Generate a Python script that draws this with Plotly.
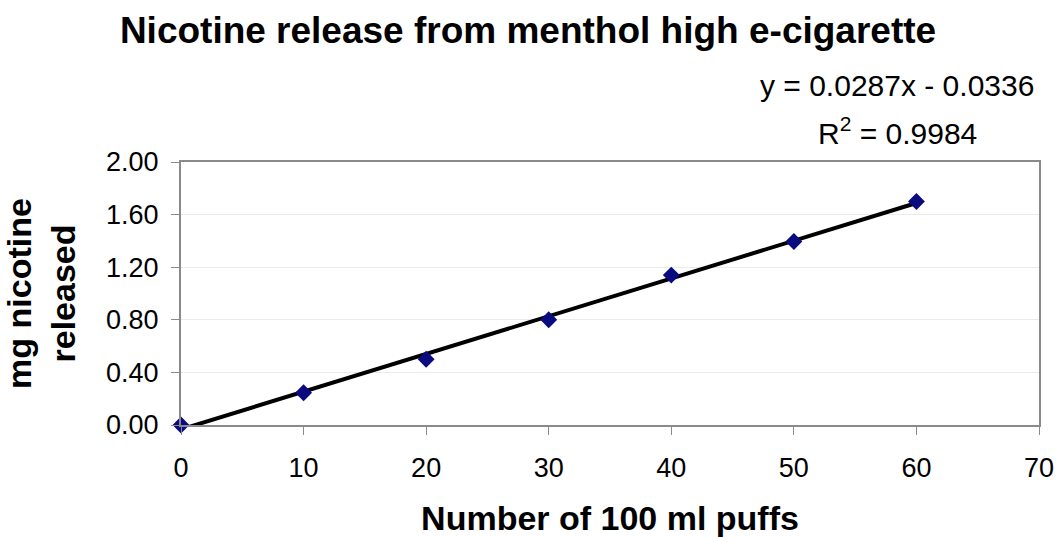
import plotly.graph_objects as go

# Data
puffs = [0, 10, 20, 30, 40, 50, 60]
nicotine_mg = [0.00, 0.245, 0.50, 0.80, 1.14, 1.395, 1.70]
trend_slope = 0.0287
trend_intercept = -0.0336
trend_x = [0, 60]
trend_y = [trend_slope * x + trend_intercept for x in trend_x]
x_ticks = [0, 10, 20, 30, 40, 50, 60, 70]
y_ticks = [0.0, 0.4, 0.8, 1.2, 1.6, 2.0]
y_tick_text = ["0.00", "0.40", "0.80", "1.20", "1.60", "2.00"]
equation_text = "y = 0.0287x - 0.0336"
r2_text = "R<sup>2</sup> = 0.9984"

FONT = "Liberation Sans, Arial, sans-serif"
W, H = 1056, 537
ML, MR, MT, MB = 181, 17, 162, 112

fig = go.Figure()
fig.add_trace(go.Scatter(
    x=trend_x, y=trend_y, mode="lines",
    line=dict(color="black", width=4),
    showlegend=False, hoverinfo="skip",
))
fig.add_trace(go.Scatter(
    x=puffs, y=nicotine_mg, mode="markers",
    marker=dict(symbol="diamond", size=13, color="#0b0b80",
                line=dict(width=0)),
    cliponaxis=False, showlegend=False,
))

def py(pix):
    # pixel row -> paper y
    return (H - MB - pix) / (H - MT - MB)

def px(pix):
    return (pix - ML) / (W - ML - MR)

fig.update_layout(
    width=W, height=H,
    paper_bgcolor="white", plot_bgcolor="white",
    margin=dict(l=ML, r=MR, t=MT, b=MB, autoexpand=False),
    font=dict(family=FONT, color="black"),
    title=dict(
        text="<b>Nicotine release from menthol high e-cigarette</b>",
        x=0.5, xref="container", xanchor="center",
        y=1 - 30 / H, yref="container", yanchor="middle",
        font=dict(size=37, family=FONT, color="black"),
    ),
    annotations=[
        dict(text=equation_text, xref="paper", yref="paper",
             x=px(897), y=py(86), xanchor="center", yanchor="middle",
             showarrow=False, font=dict(size=30, family=FONT, color="black")),
        dict(text=r2_text, xref="paper", yref="paper",
             x=px(897), y=py(131), xanchor="center", yanchor="middle",
             showarrow=False, font=dict(size=30, family=FONT, color="black")),
    ],
)

fig.update_xaxes(
    range=[0, 70], tickvals=x_ticks, automargin=False,
    showgrid=False, zeroline=False,
    showline=True, linecolor="#8a8a8a", linewidth=2, mirror=True,
    ticks="outside", ticklen=8, tickcolor="#8a8a8a", tickwidth=1,
    ticklabelstandoff=10,
    tickfont=dict(size=27, family=FONT, color="black"),
    title=dict(text="<b>Number of 100 ml puffs</b>", standoff=33,
               font=dict(size=34, family=FONT, color="black")),
)
fig.update_yaxes(
    range=[0, 2.0], tickvals=y_ticks, ticktext=y_tick_text, automargin=False,
    showgrid=True, gridcolor="#ebebeb", gridwidth=1, zeroline=False,
    showline=True, linecolor="#8a8a8a", linewidth=2, mirror=True,
    ticks="outside", ticklen=8, tickcolor="#8a8a8a", tickwidth=1,
    ticklabelstandoff=7,
    tickfont=dict(size=27, family=FONT, color="black"),
    title=dict(text="<b>mg nicotine<br>released</b>", standoff=20,
               font=dict(size=34, family=FONT, color="black")),
)

fig.write_html("out.html")
